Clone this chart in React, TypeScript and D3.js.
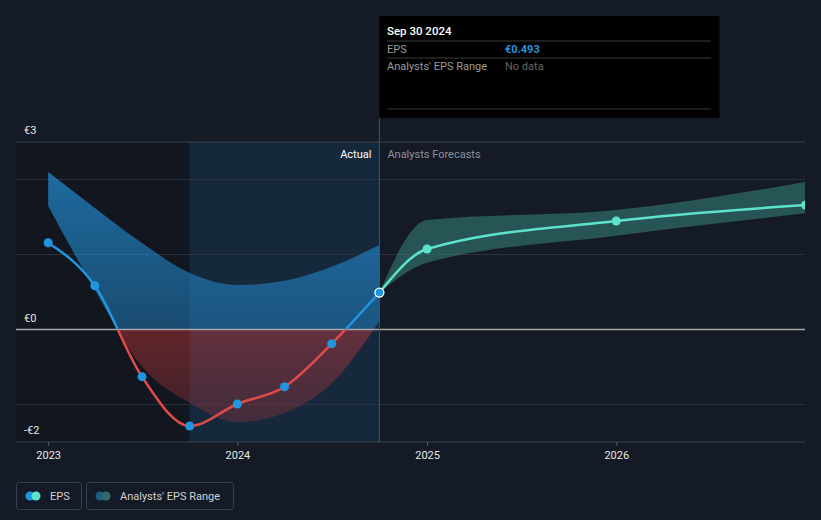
import React from "react";
import * as d3 from "d3";

const W = 821;
const H = 520;

const histDates = ["2022-12-31", "2023-03-31", "2023-06-30", "2023-09-30", "2023-12-31", "2024-03-31", "2024-06-30", "2024-09-30"];
const histEps = [1.157, 0.584, -0.629, -1.287, -0.993, -0.763, -0.189, 0.493];
const histRangeHigh = [2.1, 1.62, 1.153, 0.753, 0.593, 0.651, 0.837, 1.127];
const histRangeLow = [1.647, 0.527, -0.496, -0.976, -1.237, -1.113, -0.717, 0.109];

const fcDates = ["2024-09-30", "2024-12-31", "2025-12-31", "2026-12-31"];
const fcEps = [0.493, 1.073, 1.447, 1.66];
const fcHigh = [0.493, 1.46, 1.593, 1.967];
const fcLow = [0.493, 0.89, 1.25, 1.55];

const yearTicks = ["2023", "2024", "2025", "2026"];
const yLabels = [
  { v: 2.5, t: "€3" },
  { v: 0, t: "€0" },
  { v: -1.5, t: "-€2" },
];
const gridValues = [2, 1, -1];

const parse = d3.timeParse("%Y-%m-%d");

export default function App() {
  const x = d3.scaleTime().domain([parse("2023-01-01")!, parse("2026-01-01")!]).range([48.7, 616.8]);
  const y = d3.scaleLinear().domain([-1.5, 2.5]).range([442, 142]);
  const left = 16;
  const right = 805;
  const y0 = y(0);
  const hd = histDates.map((d) => parse(d)!);
  const fd = fcDates.map((d) => parse(d)!);
  const cursorX = x(parse("2024-09-30")!);
  const hlStart = x(parse("2023-09-30")!);

  const line = d3.line<[Date, number]>().x((d) => x(d[0])).y((d) => y(d[1])).curve(d3.curveMonotoneX);
  const area = d3
    .area<[Date, number, number]>()
    .x((d) => x(d[0]))
    .y0((d) => y(d[2]))
    .y1((d) => y(d[1]))
    .curve(d3.curveMonotoneX);

  const histLine = line(hd.map((d, i) => [d, histEps[i]]))!;
  const histBand = area(hd.map((d, i) => [d, histRangeHigh[i], histRangeLow[i]]))!;
  const fcLine = line(fd.map((d, i) => [d, fcEps[i]]))!;
  const fcBand = area(fd.map((d, i) => [d, fcHigh[i], fcLow[i]]))!;

  const font = "Roboto, 'Noto Sans', sans-serif";

  return (
    <svg width={W} height={H} style={{ position: "absolute", left: 0, top: 0, background: "#151b26" }} fontFamily={font}>
      <defs>
        <clipPath id="above">
          <rect x={0} y={0} width={W} height={y0} />
        </clipPath>
        <clipPath id="below">
          <rect x={0} y={y0} width={W} height={H - y0} />
        </clipPath>
        <clipPath id="plot">
          <rect x={left} y={142} width={right - left} height={300} />
        </clipPath>
        <linearGradient id="blueG" x1="0" y1={y(2.2)} x2="0" y2={y0} gradientUnits="userSpaceOnUse">
          <stop offset="0" stopColor="#2394df" stopOpacity={0.68} />
          <stop offset="1" stopColor="#2394df" stopOpacity={0.42} />
        </linearGradient>
        <linearGradient id="redG" x1="0" y1={y0} x2="0" y2={y(-1.3)} gradientUnits="userSpaceOnUse">
          <stop offset="0" stopColor="#d0393c" stopOpacity={0.42} />
          <stop offset="1" stopColor="#c0393c" stopOpacity={0.25} />
        </linearGradient>
      </defs>
      <rect x={0} y={0} width={W} height={H} fill="#151b26" />
      {/* past shading */}
      <rect x={left} y={142} width={hlStart - left} height={300} fill="#11151d" opacity={0.7} />
      <rect x={hlStart} y={142} width={cursorX - hlStart} height={300} fill="#1a4f7a" opacity={0.26} />
      {/* grid */}
      {gridValues.map((v) => (
        <line key={v} x1={left} x2={right} y1={y(v)} y2={y(v)} stroke="#2a313d" strokeWidth={1} />
      ))}
      <line x1={left} x2={right} y1={142} y2={142} stroke="#3a414d" strokeWidth={1} />
      <line x1={left} x2={right} y1={442} y2={442} stroke="#3a414d" strokeWidth={1} />
      {yearTicks.map((t) => {
        const xx = x(parse(t + "-01-01")!);
        return (
          <g key={t}>
            <line x1={xx} x2={xx} y1={442} y2={446} stroke="#555c68" />
            <text x={xx} y={459} textAnchor="middle" fontSize={11} fill="#e8e8e8">
              {t}
            </text>
          </g>
        );
      })}
      {/* bands */}
      <g clipPath="url(#plot)">
        <path d={histBand} fill="url(#blueG)" clipPath="url(#above)" />
        <path d={histBand} fill="url(#redG)" clipPath="url(#below)" />
        <path d={fcBand} fill="#3a8f86" opacity={0.5} />
      </g>
      <line x1={left} x2={right} y1={y0} y2={y0} stroke="#a8a8ac" strokeWidth={1.5} />
      {/* cursor */}
      <line x1={cursorX} x2={cursorX} y1={118} y2={442} stroke="#2f5a80" strokeWidth={1} />
      {/* lines */}
      <path d={histLine} fill="none" stroke="#2394df" strokeWidth={2.5} clipPath="url(#above)" />
      <path d={histLine} fill="none" stroke="#e14a4a" strokeWidth={2.5} clipPath="url(#below)" />
      <path d={fcLine} fill="none" stroke="#5ee3cb" strokeWidth={2.5} clipPath="url(#plot)" />
      {hd.slice(0, -1).map((d, i) => (
        <circle key={i} cx={x(d)} cy={y(histEps[i])} r={4.5} fill="#2394df" />
      ))}
      {fd.slice(1).map((d, i) => (
        <circle key={i} cx={x(d)} cy={y(fcEps[i + 1])} r={4.5} fill="#5ee3cb" clipPath="url(#plot)" />
      ))}
      <circle cx={cursorX} cy={y(0.493)} r={4.5} fill="#2394df" stroke="#ffffff" strokeWidth={1.3} />
      {/* labels */}
      <text x={cursorX - 8} y={158} textAnchor="end" fontSize={11} fill="#ffffff">
        Actual
      </text>
      <text x={cursorX + 8} y={158} fontSize={11} fill="#8c9099">
        Analysts Forecasts
      </text>
      {yLabels.map((l) => (
        <text key={l.t} x={24} y={y(l.v) - 8} fontSize={11} fill="#e8e8e8">
          {l.t}
        </text>
      ))}
      {/* tooltip */}
      <rect x={379.5} y={16} width={340} height={102} fill="#000000" />
      <text x={387} y={35} fontSize={11.5} fontWeight={500} fill="#ffffff">
        Sep 30 2024
      </text>
      <line x1={387} x2={711} y1={41} y2={41} stroke="#3a3a3a" />
      <text x={387} y={53} fontSize={11} fill="#9a9a9a">
        EPS
      </text>
      <text x={505} y={53} fontSize={11} fontWeight={700} fill="#2394df">
        €0.493
      </text>
      <line x1={387} x2={711} y1={58} y2={58} stroke="#3a3a3a" />
      <text x={387} y={70} fontSize={11} fill="#9a9a9a">
        Analysts' EPS Range
      </text>
      <text x={505} y={70} fontSize={11} fill="#666666">
        No data
      </text>
      <line x1={387} x2={711} y1={109} y2={109} stroke="#3a3a3a" />
      {/* legend */}
      <rect x={16.5} y={482.5} width={65} height={27} rx={3} fill="none" stroke="#3a404c" />
      <circle cx={30} cy={496} r={4.5} fill="#2394df" />
      <circle cx={36} cy={496} r={4.5} fill="#5ee3cb" />
      <text x={50} y={500} fontSize={11} fill="#d0d0d0">
        EPS
      </text>
      <rect x={86.5} y={482.5} width={147} height={27} rx={3} fill="none" stroke="#3a404c" />
      <circle cx={100} cy={496} r={4.5} fill="#1f5a85" />
      <circle cx={106} cy={496} r={4.5} fill="#2f6d6b" />
      <text x={120} y={500} fontSize={11} fill="#d0d0d0">
        Analysts' EPS Range
      </text>
    </svg>
  );
}
